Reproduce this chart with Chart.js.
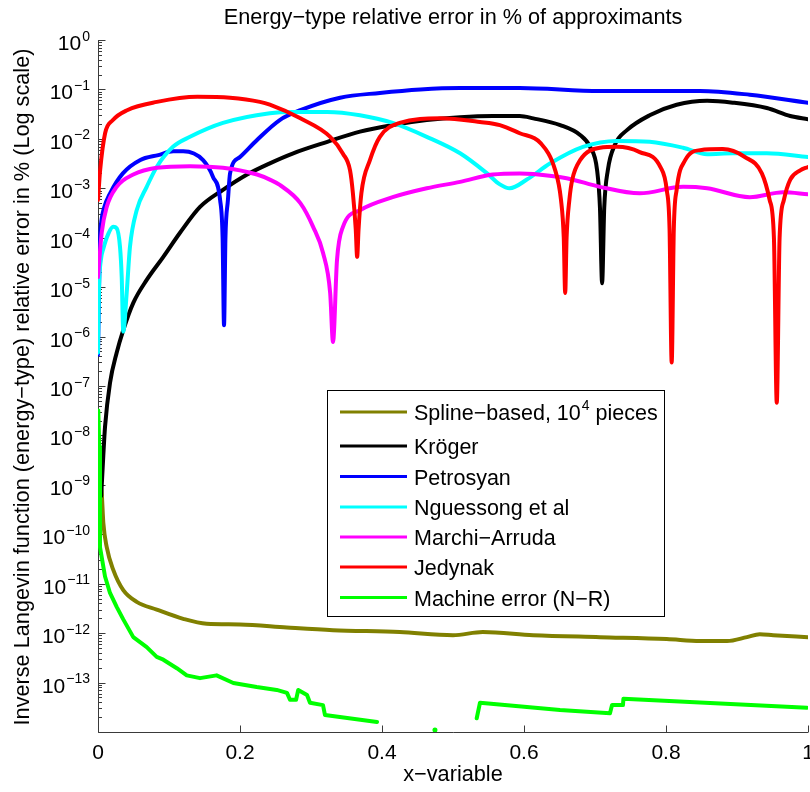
<!DOCTYPE html>
<html>
<head>
<meta charset="utf-8">
<script src="https://cdn.jsdelivr.net/npm/chart.js@4.4.0/dist/chart.umd.min.js"></script>
<style>
  body { margin: 0; background: #fff; }
</style>
</head>
<body>
<canvas id="errChart" width="810" height="792"></canvas>
<script>
// values: x in [0,1], relative error in % (log axis)
const splineX = [0.003, 0.0052, 0.0075, 0.0123, 0.0215, 0.0356, 0.0545, 0.0827, 0.12, 0.153, 0.2, 0.266, 0.331, 0.425, 0.5, 0.542, 0.613, 0.707, 0.801, 0.848, 0.886, 0.914, 0.932, 0.951, 1.0];
const splineY = [1.0e-9, 6.9e-10, 1.7e-10, 5.5e-11, 1.9e-11, 7.4e-12, 4.3e-12, 3.0e-12, 1.95e-12, 1.55e-12, 1.5e-12, 1.3e-12, 1.15e-12, 1.05e-12, 9.1e-13, 1.05e-12, 9.1e-13, 8.3e-13, 7.6e-13, 6.9e-13, 6.9e-13, 8.3e-13, 9.5e-13, 9.1e-13, 8.3e-13];

const krogerX = [0.0045, 0.0075, 0.0099, 0.0169, 0.0263, 0.0356, 0.0497, 0.0686, 0.092, 0.1155, 0.1437, 0.176, 0.21, 0.242, 0.275, 0.323, 0.369, 0.415, 0.463, 0.51, 0.556, 0.594, 0.613, 0.651, 0.679, 0.693, 0.703, 0.707, 0.710, 0.713, 0.718, 0.728, 0.745, 0.777, 0.815, 0.858, 0.894, 0.942, 0.975, 1.0];
const krogerY = [6.0e-10, 4.0e-9, 1.5e-8, 1.15e-7, 4.7e-7, 1.35e-6, 4.8e-6, 1.4e-5, 4.1e-5, 1.26e-4, 4.2e-4, 9.3e-4, 1.9e-3, 3.2e-3, 5.1e-3, 8.7e-3, 1.4e-2, 1.9e-2, 2.4e-2, 2.75e-2, 2.9e-2, 2.9e-2, 2.6e-2, 1.9e-2, 1.2e-2, 6.9e-3, 2.3e-3, 4.0e-4, 1.2e-5, 4.0e-4, 2.3e-3, 7.6e-3, 1.5e-2, 3.0e-2, 4.9e-2, 5.9e-2, 5.4e-2, 4.2e-2, 2.9e-2, 2.5e-2];

const petrosyanX = [0, 0.0015, 0.003, 0.005, 0.0085, 0.017, 0.035, 0.059, 0.085, 0.106, 0.12, 0.148, 0.162, 0.172, 0.1755, 0.1775, 0.1795, 0.183, 0.186, 0.2, 0.224, 0.256, 0.285, 0.341, 0.397, 0.454, 0.51, 0.594, 0.707, 0.848, 0.918, 1.0];
const petrosyanY = [4.3e-7, 1.0e-5, 1.0e-4, 2.3e-4, 4.0e-4, 7.9e-4, 2.0e-3, 3.7e-3, 4.7e-3, 5.6e-3, 5.6e-3, 3.7e-3, 1.7e-3, 5.8e-4, 1.0e-4, 1.7e-6, 1.0e-4, 5.8e-4, 2.0e-3, 4.3e-3, 9.5e-3, 2.4e-2, 3.8e-2, 6.8e-2, 8.5e-2, 1.0e-1, 1.07e-1, 1.07e-1, 9.3e-2, 9.3e-2, 7.8e-2, 5.4e-2];

const nguessongX = [0, 0.0015, 0.004, 0.0075, 0.0145, 0.0215, 0.0263, 0.031, 0.0334, 0.0356, 0.0404, 0.045, 0.0545, 0.0686, 0.0827, 0.1056, 0.1296, 0.176, 0.242, 0.275, 0.323, 0.369, 0.415, 0.463, 0.51, 0.548, 0.566, 0.58, 0.604, 0.637, 0.683, 0.731, 0.777, 0.824, 0.858, 0.894, 0.942, 1.0];
const nguessongY = [4.7e-7, 1.0e-5, 3.5e-5, 6.0e-5, 1.2e-4, 1.66e-4, 1.55e-4, 6.5e-5, 1.6e-5, 1.26e-6, 7.6e-6, 6.5e-5, 3.6e-4, 1.07e-3, 2.7e-3, 6.9e-3, 1.1e-2, 2.1e-2, 3.3e-2, 3.5e-2, 3.5e-2, 3.0e-2, 2.1e-2, 1.1e-2, 5.1e-3, 2.0e-3, 1.2e-3, 1.0e-3, 1.5e-3, 3.2e-3, 6.9e-3, 9.1e-3, 8.7e-3, 6.6e-3, 4.9e-3, 5.1e-3, 5.1e-3, 4.3e-3];

const marchiX = [0, 0.0052, 0.0123, 0.0263, 0.0497, 0.0827, 0.1296, 0.176, 0.224, 0.242, 0.256, 0.285, 0.303, 0.317, 0.327, 0.331, 0.3366, 0.345, 0.369, 0.415, 0.463, 0.51, 0.556, 0.594, 0.613, 0.66, 0.707, 0.763, 0.824, 0.858, 0.918, 0.965, 1.0];
const marchiY = [1.6e-5, 1.26e-4, 4.2e-4, 1.07e-3, 1.9e-3, 2.6e-3, 2.8e-3, 2.6e-3, 1.9e-3, 1.5e-3, 1.17e-3, 5.0e-4, 1.66e-4, 4.9e-5, 7.6e-6, 7.8e-7, 3.5e-5, 1.66e-4, 3.6e-4, 6.6e-4, 1.0e-3, 1.35e-3, 1.9e-3, 2.0e-3, 1.95e-3, 1.6e-3, 1.07e-3, 7.9e-4, 1.07e-3, 1.0e-3, 6.6e-4, 8.3e-4, 7.6e-4];

const jedynakX = [0, 0.003, 0.01, 0.021, 0.041, 0.083, 0.14, 0.186, 0.228, 0.242, 0.285, 0.327, 0.345, 0.355, 0.359, 0.363, 0.365, 0.367, 0.371, 0.383, 0.397, 0.425, 0.482, 0.538, 0.566, 0.594, 0.623, 0.644, 0.652, 0.656, 0.658, 0.660, 0.664, 0.668, 0.679, 0.707, 0.731, 0.763, 0.792, 0.801, 0.805, 0.808, 0.811, 0.815, 0.827, 0.848, 0.880, 0.911, 0.935, 0.946, 0.952, 0.956, 0.960, 0.966, 0.975, 0.989, 1.0];
const jedynakY = [5.8e-4, 2.3e-3, 1.3e-2, 2.4e-2, 3.8e-2, 5.6e-2, 7.1e-2, 6.8e-2, 5.6e-2, 4.9e-2, 2.6e-2, 1.1e-2, 5.0e-3, 2.3e-3, 8.0e-4, 1.5e-4, 4.1e-5, 1.5e-4, 8.0e-4, 3.7e-3, 1.1e-2, 2.1e-2, 2.6e-2, 2.2e-2, 1.9e-2, 1.3e-2, 8.3e-3, 2.3e-3, 6.0e-4, 1.0e-4, 7.6e-6, 1.0e-4, 6.0e-4, 1.5e-3, 3.7e-3, 6.6e-3, 6.9e-3, 5.4e-3, 2.7e-3, 9.3e-4, 1.5e-4, 3.0e-7, 1.5e-4, 9.3e-4, 3.7e-3, 5.9e-3, 6.2e-3, 4.3e-3, 2.0e-3, 5.8e-4, 1.0e-4, 4.6e-8, 1.0e-4, 5.8e-4, 1.5e-3, 2.3e-3, 2.7e-3];

// null = below the axis floor (line breaks there)
const machineX = [0.0004, 0.0018, 0.0028, 0.0099, 0.0169, 0.0263, 0.0356, 0.0497, 0.0686, 0.0827, 0.092, 0.111, 0.125, 0.1437, 0.167, 0.1906, 0.2235, 0.2517, 0.2662, 0.2704, 0.279, 0.282, 0.2944, 0.2986, 0.3169, 0.3197, 0.393, 0.43, 0.4746, 0.50, 0.5334, 0.538, 0.6507, 0.7211, 0.724, 0.7394, 0.74, 0.9986];
const machineY = [3.2e-8, 5.9e-9, 5.5e-11, 1.4e-11, 6.5e-12, 3.4e-12, 1.9e-12, 8.3e-13, 5.2e-13, 3.3e-13, 2.9e-13, 1.95e-13, 1.4e-13, 1.23e-13, 1.4e-13, 9.8e-14, 8.1e-14, 7.1e-14, 6.2e-14, 4.5e-14, 4.5e-14, 7.1e-14, 5.6e-14, 3.9e-14, 3.5e-14, 2.2e-14, 1.6e-14, null, 1.1e-14, null, 1.9e-14, 3.9e-14, 2.8e-14, 2.4e-14, 3.5e-14, 3.5e-14, 4.7e-14, 3.1e-14];

const seriesLabels = ['Spline\u2212based, 10^4 pieces', 'Kr\u00f6ger', 'Petrosyan', 'Nguessong et al', 'Marchi\u2212Arruda', 'Jedynak', 'Machine error (N\u2212R)'];
const seriesColors = ['#808000', '#000000', '#0000ff', '#00ffff', '#ff00ff', '#ff0000', '#00ff00'];

const xTicks = [0, 0.2, 0.4, 0.6, 0.8, 1];
const xTickLabels = ['0', '0.2', '0.4', '0.6', '0.8', '1'];
const yLabelExps = [0, -1, -2, -3, -4, -5, -6, -7, -8, -9, -10, -11, -12, -13];

const FONT = '"Liberation Sans", Arial, Helvetica, sans-serif';

function pts(xs, ys) {
    return xs.map((x, i) => ({ x: x, y: ys[i] }));
}

const seriesData = [
    pts(splineX, splineY),
    pts(krogerX, krogerY),
    pts(petrosyanX, petrosyanY),
    pts(nguessongX, nguessongY),
    pts(marchiX, marchiY),
    pts(jedynakX, jedynakY),
    pts(machineX, machineY)
];

const datasets = seriesData.map((d, i) => ({
    label: seriesLabels[i],
    data: d,
    borderColor: seriesColors[i],
    backgroundColor: seriesColors[i],
    borderWidth: 4,
    borderCapStyle: 'round',
    borderJoinStyle: 'round',
    cubicInterpolationMode: i === 6 ? 'default' : 'monotone',
    order: seriesData.length - 1 - i,
    pointRadius: (ctx) => {
        const arr = ctx.dataset.data, k = ctx.dataIndex;
        const prev = arr[k - 1], next = arr[k + 1];
        const lone = arr[k].y !== null && (!prev || prev.y === null) && (!next || next.y === null);
        return lone ? 2.5 : 0;
    },
    pointBorderWidth: 0
}));

// draw a "10^n" style string at (x, baseline), returns width
function drawSup(ctx, base, sup, x, y, size, supSize, measureOnly) {
    ctx.font = size + 'px ' + FONT;
    const w1 = ctx.measureText(base).width;
    ctx.font = supSize + 'px ' + FONT;
    const w2 = ctx.measureText(sup).width;
    if (!measureOnly) {
        ctx.font = size + 'px ' + FONT;
        ctx.fillText(base, x, y);
        ctx.font = supSize + 'px ' + FONT;
        ctx.fillText(sup, x + w1 + 1, y - size * 0.45);
    }
    return w1 + w2 + 1;
}

const matlabAxes = {
    id: 'matlabAxes',
    beforeDatasetsDraw(chart) {
        const { ctx, chartArea: a, scales: { x, y } } = chart;
        ctx.save();
        ctx.strokeStyle = '#3a3a3a';
        ctx.lineWidth = 1;
        const L = Math.round(a.left) + 0.5, B = Math.round(a.bottom) + 0.5;
        ctx.beginPath();
        ctx.moveTo(L, a.top);
        ctx.lineTo(L, B);
        ctx.lineTo(a.right, B);
        // x ticks point inward
        xTicks.forEach(v => {
            const px = Math.round(x.getPixelForValue(v)) + 0.5;
            ctx.moveTo(px, B);
            ctx.lineTo(px, B - 7);
        });
        // y major + minor ticks
        for (let e = -14; e <= 0; e++) {
            const py = Math.round(y.getPixelForValue(Math.pow(10, e))) + 0.5;
            ctx.moveTo(L, py);
            ctx.lineTo(L + 7, py);
            if (e < 0) {
                for (let m = 2; m <= 9; m++) {
                    const pm = Math.round(y.getPixelForValue(m * Math.pow(10, e))) + 0.5;
                    ctx.moveTo(L, pm);
                    ctx.lineTo(L + 3.5, pm);
                }
            }
        }
        ctx.stroke();
        ctx.restore();
    },
    afterDatasetsDraw(chart) {
        const { ctx, chartArea: a, scales: { x, y } } = chart;
        ctx.save();
        ctx.fillStyle = '#000';
        ctx.textBaseline = 'alphabetic';

        // y tick labels 10^n
        yLabelExps.forEach(e => {
            const py = y.getPixelForValue(Math.pow(10, e));
            const sup = e === 0 ? '0' : '\u2212' + (-e);
            ctx.textAlign = 'left';
            const w = drawSup(ctx, '10', sup, 0, 0, 21, 14, true);
            drawSup(ctx, '10', sup, 90 - w, py + 10, 21, 14, false);
        });

        // x tick labels
        ctx.font = '21px ' + FONT;
        ctx.textAlign = 'center';
        xTicks.forEach((v, i) => {
            ctx.fillText(xTickLabels[i], x.getPixelForValue(v), 759);
        });

        // axis titles and chart title
        ctx.font = '21.7px ' + FONT;
        ctx.fillText('x\u2212variable', (a.left + a.right) / 2, 781);
        ctx.fillText('Energy\u2212type relative error in % of approximants', (a.left + a.right) / 2, 24);
        ctx.save();
        ctx.translate(29, 387);
        ctx.rotate(-Math.PI / 2);
        ctx.fillText('Inverse Langevin function (energy\u2212type) relative error in % (Log scale)', 0, 0);
        ctx.restore();

        // legend box
        const bx = 327, by = 390, bw = 337, bh = 226;
        ctx.fillStyle = '#fff';
        ctx.fillRect(bx, by, bw, bh);
        ctx.strokeStyle = '#000';
        ctx.lineWidth = 1;
        ctx.strokeRect(bx + 0.5, by + 0.5, bw, bh);
        const rowY = [412, 446, 476.5, 507, 537, 567, 597.5];
        chart.data.datasets.forEach((ds, i) => {
            const ry = rowY[i];
            ctx.strokeStyle = ds.borderColor;
            ctx.lineWidth = 3;
            ctx.beginPath();
            ctx.moveTo(340, ry);
            ctx.lineTo(407, ry);
            ctx.stroke();
            ctx.fillStyle = '#000';
            ctx.textAlign = 'left';
            const parts = ds.label.split('^');
            if (parts.length === 2) {
                // "..., 10^4 pieces": exponent is the first char after ^
                const base = parts[0], sup = parts[1].charAt(0), rest = parts[1].slice(1);
                const w = drawSup(ctx, base, sup, 414, ry + 8, 21.5, 14, false);
                ctx.font = '21.5px ' + FONT;
                ctx.fillText(rest, 414 + w, ry + 8);
            } else {
                ctx.font = '21.5px ' + FONT;
                ctx.fillText(ds.label, 414, ry + 8);
            }
        });
        ctx.restore();
    }
};

new Chart(document.getElementById('errChart').getContext('2d'), {
    type: 'line',
    data: { datasets: datasets },
    options: {
        responsive: false,
        animation: false,
        devicePixelRatio: 1,
        layout: { padding: { left: 98, right: 2, top: 40, bottom: 60 } },
        scales: {
            x: { type: 'linear', min: 0, max: 1, display: false },
            y: { type: 'logarithmic', min: 1e-14, max: 1, display: false }
        },
        plugins: { legend: { display: false }, tooltip: { enabled: false } },
        elements: { line: { tension: 0 } }
    },
    plugins: [matlabAxes]
});
</script>
</body>
</html>
